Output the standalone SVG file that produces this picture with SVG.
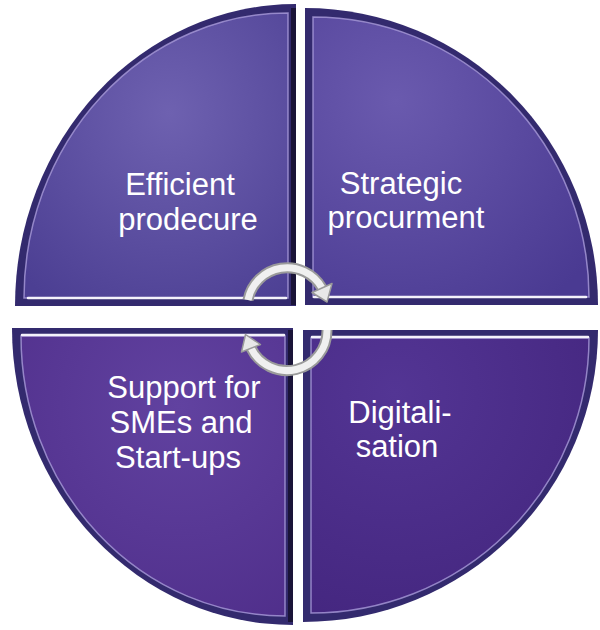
<svg xmlns="http://www.w3.org/2000/svg" width="600" height="630" viewBox="0 0 600 630">
<defs>
<radialGradient id="gTL" cx="0.55" cy="0.35" r="0.8">
<stop offset="0" stop-color="#6e61b0"/><stop offset="1" stop-color="#4c3f93"/>
</radialGradient>
<radialGradient id="gTR" cx="0.3" cy="0.3" r="0.9">
<stop offset="0" stop-color="#6a5aae"/><stop offset="1" stop-color="#4a3a92"/>
</radialGradient>
<radialGradient id="gBL" cx="0.6" cy="0.25" r="0.9">
<stop offset="0" stop-color="#6142a0"/><stop offset="1" stop-color="#4f2e8a"/>
</radialGradient>
<radialGradient id="gBR" cx="0.3" cy="0.2" r="0.9">
<stop offset="0" stop-color="#533594"/><stop offset="1" stop-color="#44267f"/>
</radialGradient>
<style>
.rim{fill:#332a6e;}
.face{stroke:#a99bd9;stroke-width:1.5;stroke-opacity:0.8;}
.hl{stroke:#f4f2fb;stroke-width:2.5;stroke-linecap:round;}
.sh{stroke:#1a1438;stroke-width:5;}
.lbl{font-family:"Liberation Sans",Arial,sans-serif;font-size:31px;fill:#ffffff;text-anchor:middle;}
.arO{fill:none;stroke:#9a9a9a;stroke-width:11;}
.arI{fill:none;stroke:#f0f0f0;stroke-width:7;}
.ahd{fill:#e8e8e8;stroke:#9a9a9a;stroke-width:1.5;stroke-linejoin:round;}
</style>
</defs>
<rect width="600" height="630" fill="#ffffff"/>

<g id="q-efficient">
<path class="rim" d="M296,306 L15,306 A281 302 0 0 1 296 4 Z"/>
<path class="face" fill="url(#gTL)" d="M288,298 L24,298 A264 285 0 0 1 288 13 Z"/>
<line class="sh" x1="293.5" y1="8" x2="293.5" y2="305"/>
<line class="hl" x1="28" y1="298" x2="286" y2="298"/>
<text class="lbl" x="180" y="195">Efficient</text>
<text class="lbl" x="188" y="230">prodecure</text>
</g>

<g id="q-strategic">
<path class="rim" d="M305,305 L305,8 A293 297 0 0 1 598 305 Z"/>
<path class="face" fill="url(#gTR)" d="M313,297 L313,17 A276 280 0 0 1 589 297 Z"/>
<line class="hl" x1="314" y1="297" x2="586" y2="297"/>
<text class="lbl" x="401" y="194">Strategic</text>
<text class="lbl" x="406" y="228">procurment</text>
</g>

<g id="q-support">
<path class="rim" d="M293,328 L293,625 A281 297 0 0 1 12 328 Z"/>
<path class="face" fill="url(#gBL)" d="M285,336 L285,616 A264 280 0 0 1 21 336 Z"/>
<line class="sh" x1="290.5" y1="330" x2="290.5" y2="622"/>
<line class="hl" x1="22" y1="335" x2="284" y2="335"/>
<text class="lbl" x="184" y="398">Support for</text>
<text class="lbl" x="181" y="433">SMEs and</text>
<text class="lbl" x="178" y="468">Start-ups</text>
</g>

<g id="q-digital">
<path class="rim" d="M303,330 L598,330 A295 292 0 0 1 303 622 Z"/>
<path class="face" fill="url(#gBR)" d="M311,338 L589,338 A278 275 0 0 1 311 613 Z"/>
<line class="hl" x1="312" y1="337" x2="588" y2="337"/>
<text class="lbl" x="400" y="423">Digitali-</text>
<text class="lbl" x="397" y="457">sation</text>
</g>

<g id="connectors">
<path class="arO" d="M248,300 A40 40 0 0 1 322,288"/>
<path class="arI" d="M248,300 A40 40 0 0 1 322,288"/>
<polygon class="ahd" points="332,283.5 312,292.5 327,302"/>
<path class="arO" d="M327,330 A40 40 0 0 1 251,348"/>
<path class="arI" d="M327,330 A40 40 0 0 1 251,348"/>
<polygon class="ahd" points="241.5,352 260.5,344.5 245.5,334.5"/>
</g>
</svg>
